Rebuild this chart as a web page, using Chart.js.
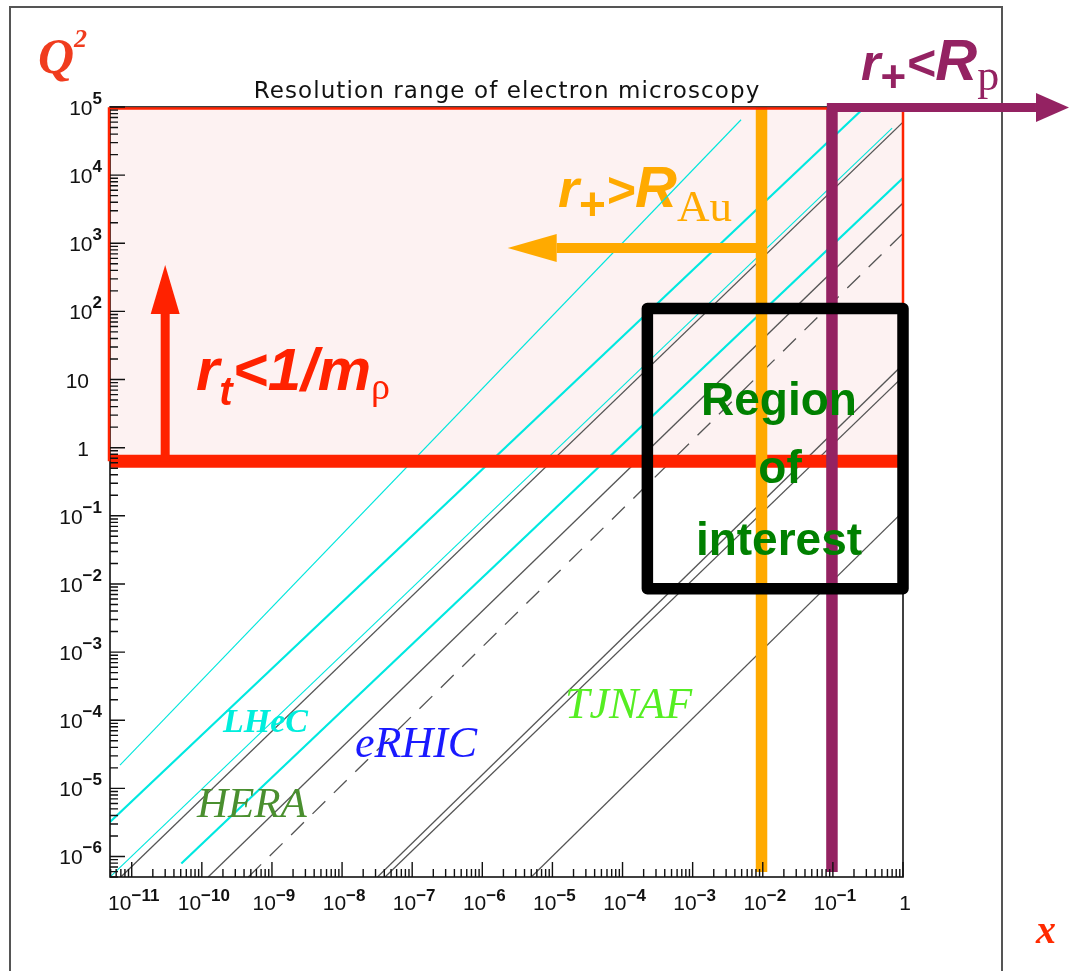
<!DOCTYPE html>
<html>
<head>
<meta charset="utf-8">
<title>Q2 versus x</title>
<script src="https://cdn.jsdelivr.net/npm/chart.js@4/dist/chart.umd.min.js"></script>
<style>
  html, body { margin: 0; padding: 0; background: #fff; }
  #wrap { position: relative; width: 1069px; height: 971px; }
</style>
</head>
<body>
<div id="wrap"><canvas id="chart" width="1069" height="971"></canvas></div>
<script>
// Axis ranges
const xRange = [4.9e-12, 1];
const q2Range = [5.0e-7, 1e5];

// Tick labels ('^' marks the exponent)
const xTickValues = [1e-11, 1e-10, 1e-9, 1e-8, 1e-7, 1e-6, 1e-5, 1e-4, 1e-3, 1e-2, 1e-1, 1];
const xTickLabels = ['10^-11', '10^-10', '10^-9', '10^-8', '10^-7', '10^-6', '10^-5', '10^-4', '10^-3', '10^-2', '10^-1', '1'];
const yTickValues = [1e5, 1e4, 1e3, 1e2, 10, 1, 1e-1, 1e-2, 1e-3, 1e-4, 1e-5, 1e-6];
const yTickLabels = ['10^5', '10^4', '10^3', '10^2', '10', '1', '10^-1', '10^-2', '10^-3', '10^-4', '10^-5', '10^-6'];

// Kinematic limit lines, start (x0, q0) to end (x1, q1)
const lineKinds = ['cyanThin', 'cyanThick', 'cyanThin', 'black', 'cyanThick', 'black', 'dashed', 'black', 'black', 'black'];
const lineX0 = [6.8e-12, 4.9e-12, 4.9e-12, 7.0e-12, 5.1e-11, 1.23e-10, 4.6e-10, 3.2e-8, 4.1e-8, 5.0e-6];
const lineQ0 = [2.2e-5, 3.2e-6, 5.0e-7, 5.0e-7, 7.9e-7, 5.0e-7, 5.0e-7, 5.0e-7, 5.0e-7, 5.0e-7];
const lineX1 = [4.9e-3, 0.26, 0.70, 1, 1, 1, 1, 1, 1, 1];
const lineQ1 = [6.5e4, 9.1e4, 4.9e4, 6.0e4, 9.1e3, 3.9e3, 1.4e3, 16.6, 11, 0.115];

// Cuts
const rhoMassSq = 0.63;      // r_t < 1/m_rho
const xGold = 0.0096;        // r+ > R_Au
const xProton = 0.097;       // r+ < R_p
const cutBottomQ2 = 5.9e-7;

// Arrows: [x start, q2 start, x tip, q2 tip]
const redArrow = [3.0e-11, 0.63, 3.0e-11, 480];
const orangeArrow = [0.0096, 850, 2.3e-6, 850];
const purpleArrow = [0.082, 9.8e4, 233, 9.8e4];

// Region of interest box (x from-to, Q2 from-to)
const roiX = [2.26e-4, 1.0];
const roiQ2 = [110, 8.5e-3];

// Experiment labels
const expNames = ['LHeC', 'eRHIC', 'HERA', 'TJNAF'];

const RED = '#ff2200';
const ORANGE = '#ffaa00';
const PURPLE = '#942262';
const SANS = '"Liberation Sans", Arial, sans-serif';
const SERIF = '"Liberation Serif", "Times New Roman", serif';

const lineStyles = {
    cyanThin:  { color: '#00e6dc', width: 1.1, dash: [] },
    cyanThick: { color: '#00e8e0', width: 2.2, dash: [] },
    black:     { color: '#555555', width: 1.3, dash: [] },
    dashed:    { color: '#555555', width: 1.3, dash: [18, 12] }
};

const datasets = lineKinds.map((kind, i) => ({
    label: 'line ' + (i + 1),
    data: [{ x: lineX0[i], y: lineQ0[i] }, { x: lineX1[i], y: lineQ1[i] }],
    showLine: true,
    pointRadius: 0,
    borderColor: lineStyles[kind].color,
    borderWidth: lineStyles[kind].width,
    borderDash: lineStyles[kind].dash,
    order: 5
}));

// thick cut lines (drawn above the diagonals)
datasets.push({
    label: 'rho', data: [{ x: xRange[0], y: rhoMassSq }, { x: xRange[1], y: rhoMassSq }],
    showLine: true, pointRadius: 0, borderColor: RED, borderWidth: 13, borderCapStyle: 'butt', clip: false, order: 2
});
datasets.push({
    label: 'Au', data: [{ x: xGold, y: q2Range[1] }, { x: xGold, y: cutBottomQ2 }],
    showLine: true, pointRadius: 0, borderColor: ORANGE, borderWidth: 11.5, borderCapStyle: 'butt', clip: false, order: 1
});
datasets.push({
    label: 'p', data: [{ x: xProton, y: q2Range[1] }, { x: xProton, y: cutBottomQ2 }],
    showLine: true, pointRadius: 0, borderColor: PURPLE, borderWidth: 11.5, borderCapStyle: 'butt', clip: false, order: 1
});

// text made of pieces with different fonts / offsets
function richText(ctx, x, y, parts, color, align) {
    let w = 0;
    parts.forEach(p => { ctx.font = p.f; w += ctx.measureText(p.t).width; });
    let cx = align === 'right' ? x - w : align === 'center' ? x - w / 2 : x;
    ctx.fillStyle = color;
    ctx.textAlign = 'left';
    ctx.textBaseline = 'alphabetic';
    parts.forEach(p => {
        ctx.font = p.f;
        ctx.fillText(p.t, cx, y + (p.dy || 0));
        cx += ctx.measureText(p.t).width;
    });
}

function tickParts(label, rise) {
    const bits = label.split('^');
    const parts = [{ t: bits[0], f: '21px ' + SANS }];
    if (bits[1]) parts.push({ t: bits[1].replace('-', '\u2212'), f: 'bold 17px ' + SANS, dy: -rise });
    return parts;
}

function arrow(ctx, x0, y0, x1, y1, shaft, headLen, headHalf, color) {
    const ang = Math.atan2(y1 - y0, x1 - x0);
    const bx = x1 - Math.cos(ang) * headLen, by = y1 - Math.sin(ang) * headLen;
    ctx.strokeStyle = color;
    ctx.lineWidth = shaft;
    ctx.lineCap = 'butt';
    ctx.beginPath(); ctx.moveTo(x0, y0); ctx.lineTo(bx, by); ctx.stroke();
    ctx.fillStyle = color;
    ctx.beginPath();
    ctx.moveTo(x1, y1);
    ctx.lineTo(bx - Math.sin(ang) * headHalf, by + Math.cos(ang) * headHalf);
    ctx.lineTo(bx + Math.sin(ang) * headHalf, by - Math.cos(ang) * headHalf);
    ctx.closePath(); ctx.fill();
}

const backdrop = {
    id: 'backdrop',
    beforeDatasetsDraw(chart) {
        const { ctx, chartArea: a, scales: { x, y } } = chart;
        ctx.save();
        // outer frame
        ctx.strokeStyle = '#555';
        ctx.lineWidth = 2;
        ctx.strokeRect(10, 7, 992, 980);
        // allowed region above m_rho^2
        const yr = y.getPixelForValue(rhoMassSq);
        ctx.fillStyle = '#fdf2f2';
        ctx.fillRect(a.left, a.top, a.right - a.left, yr - a.top);
        // orange label sits under the lines
        richText(ctx, 558, 207, [
            { t: 'r', f: 'italic bold 54px ' + SANS },
            { t: '+', f: 'bold 46px ' + SANS, dy: 13 },
            { t: '>', f: 'italic bold 50px ' + SANS },
            { t: 'R', f: 'italic bold 58px ' + SANS },
            { t: 'Au', f: '45px ' + SERIF, dy: 14 }
        ], ORANGE);
        ctx.restore();
    },
    afterDatasetsDraw(chart) {
        const { ctx, chartArea: a, scales: { x, y } } = chart;
        ctx.save();
        const yr = y.getPixelForValue(rhoMassSq);

        // plot frame
        ctx.strokeStyle = '#111';
        ctx.lineWidth = 1.6;
        ctx.strokeRect(a.left, a.top, a.right - a.left, a.bottom - a.top);
        ctx.strokeStyle = RED;
        ctx.lineWidth = 2.5;
        ctx.beginPath();
        ctx.moveTo(a.left - 1, yr); ctx.lineTo(a.left - 1, a.top + 1.5);
        ctx.lineTo(a.right, a.top + 1.5); ctx.lineTo(a.right, yr);
        ctx.stroke();

        // log ticks pointing inwards
        ctx.strokeStyle = '#111';
        ctx.lineWidth = 1.4;
        ctx.beginPath();
        for (let e = -12; e <= 0; e++) {
            for (let k = 1; k <= 9; k++) {
                const v = k * Math.pow(10, e);
                if (v < x.min * 0.999 || v > x.max * 1.001) continue;
                const px = x.getPixelForValue(v);
                ctx.moveTo(px, a.bottom); ctx.lineTo(px, a.bottom - (k === 1 ? 15 : 8));
            }
        }
        for (let e = -7; e <= 5; e++) {
            for (let k = 1; k <= 9; k++) {
                const v = k * Math.pow(10, e);
                if (v < y.min * 0.999 || v > y.max * 1.001) continue;
                const py = y.getPixelForValue(v);
                ctx.moveTo(a.left, py); ctx.lineTo(a.left + (k === 1 ? 15 : 8), py);
            }
        }
        ctx.stroke();

        // tick labels
        xTickValues.forEach((v, i) => {
            richText(ctx, x.getPixelForValue(v) + 2, a.bottom + 33, tickParts(xTickLabels[i], 9), '#111', 'center');
        });
        yTickValues.forEach((v, i) => {
            const lab = yTickLabels[i];
            const right = lab.indexOf('^') >= 0 ? 102 : 89;
            richText(ctx, right, y.getPixelForValue(v) + 8, tickParts(lab, 11), '#111', 'right');
        });

        // arrows
        arrow(ctx, x.getPixelForValue(redArrow[0]), y.getPixelForValue(redArrow[1]),
            x.getPixelForValue(redArrow[2]), y.getPixelForValue(redArrow[3]), 9, 49, 14.5, RED);
        arrow(ctx, x.getPixelForValue(orangeArrow[0]) + 5, y.getPixelForValue(orangeArrow[1]),
            x.getPixelForValue(orangeArrow[2]), y.getPixelForValue(orangeArrow[3]), 10, 49, 14, ORANGE);
        arrow(ctx, x.getPixelForValue(purpleArrow[0]), y.getPixelForValue(purpleArrow[1]),
            x.getPixelForValue(purpleArrow[2]), y.getPixelForValue(purpleArrow[3]), 9, 33, 14.5, PURPLE);

        // region of interest
        const bx0 = x.getPixelForValue(roiX[0]), bx1 = x.getPixelForValue(roiX[1]);
        const by0 = y.getPixelForValue(roiQ2[0]), by1 = y.getPixelForValue(roiQ2[1]);
        ctx.strokeStyle = '#000';
        ctx.lineWidth = 11.5;
        ctx.lineJoin = 'round';
        ctx.strokeRect(bx0, by0, bx1 - bx0, by1 - by0);
        ctx.fillStyle = '#008000';
        ctx.font = 'bold 46px ' + SANS;
        ctx.textAlign = 'center';
        ctx.fillText('Region', 779, 415);
        ctx.fillText('of', 780, 483);
        ctx.fillText('interest', 779, 555);

        // cut labels
        richText(ctx, 196, 390, [
            { t: 'r', f: 'italic bold 60px ' + SANS },
            { t: 't', f: 'italic bold 40px ' + SANS, dy: 15 },
            { t: '<1/m', f: 'italic bold 60px ' + SANS },
            { t: '\u03c1', f: '38px ' + SERIF, dy: 9 }
        ], RED);
        richText(ctx, 861, 80, [
            { t: 'r', f: 'italic bold 50px ' + SANS },
            { t: '+', f: 'bold 44px ' + SANS, dy: 12 },
            { t: '<', f: 'italic bold 50px ' + SANS },
            { t: 'R', f: 'italic bold 58px ' + SANS },
            { t: 'p', f: '44px ' + SERIF, dy: 10 }
        ], PURPLE);

        // experiments
        ctx.textAlign = 'left';
        ctx.font = 'italic bold 34px ' + SERIF;
        ctx.fillStyle = '#00eedd';
        ctx.fillText(expNames[0], 223, 732);
        ctx.font = 'italic 44px ' + SERIF;
        ctx.fillStyle = '#1a1aff';
        ctx.fillText(expNames[1], 355, 757);
        ctx.font = 'italic 43px ' + SERIF;
        ctx.fillStyle = '#4a8f2f';
        ctx.fillText(expNames[2], 197, 817);
        ctx.font = 'italic 44px ' + SERIF;
        ctx.fillStyle = '#55ee22';
        ctx.fillText(expNames[3], 565, 718);

        // titles and axis names
        ctx.fillStyle = '#111';
        ctx.font = '23px "DejaVu Sans", ' + SANS;
        ctx.letterSpacing = '1.1px';
        ctx.textAlign = 'center';
        ctx.fillText('Resolution range of electron microscopy', 507, 98);
        ctx.letterSpacing = '0px';
        richText(ctx, 38, 73, [
            { t: 'Q', f: 'italic bold 50px ' + SERIF },
            { t: '2', f: 'italic bold 26px ' + SERIF, dy: -26 }
        ], '#f03c1e');
        ctx.font = 'italic bold 40px ' + SERIF;
        ctx.fillStyle = '#ff2a00';
        ctx.textAlign = 'left';
        ctx.fillText('x', 1036, 943);
        ctx.restore();
    }
};

new Chart(document.getElementById('chart'), {
    type: 'scatter',
    data: { datasets },
    options: {
        responsive: false,
        animation: false,
        events: [],
        layout: { padding: { left: 0, top: 107, right: 166, bottom: 0 } },
        plugins: { legend: { display: false }, tooltip: { enabled: false } },
        scales: {
            x: {
                type: 'logarithmic', min: xRange[0], max: xRange[1], bounds: 'data',
                ticks: { display: false }, grid: { display: false }, border: { display: false },
                afterFit: s => { s.height = 94; }
            },
            y: {
                type: 'logarithmic', min: q2Range[0], max: q2Range[1], bounds: 'data',
                ticks: { display: false }, grid: { display: false }, border: { display: false },
                afterFit: s => { s.width = 110; }
            }
        }
    },
    plugins: [backdrop]
});
</script>
</body>
</html>
